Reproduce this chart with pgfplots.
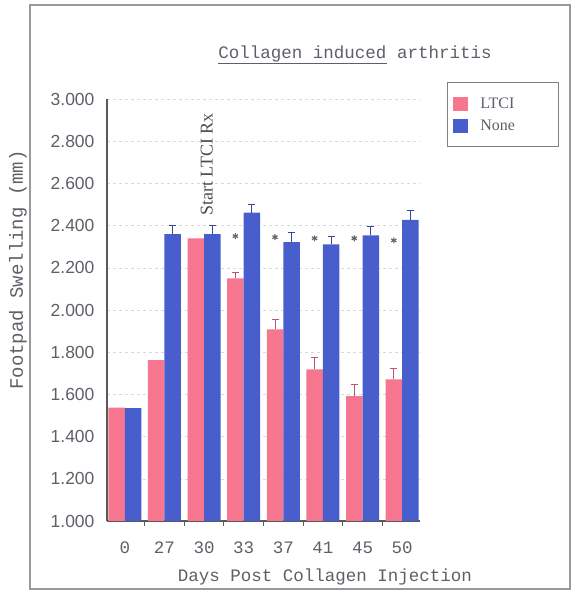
\documentclass[border=0pt]{standalone}
\usepackage{fontspec}
\setmainfont{Liberation Serif}
\newfontfamily\monof{Liberation Mono}
\newfontfamily\sansf{Liberation Sans}
\usepackage{pgfplots}
\pgfplotsset{compat=1.18}
\definecolor{ltcicol}{RGB}{245,118,142}
\definecolor{nonecol}{RGB}{72,94,204}
\definecolor{txt}{RGB}{95,95,105}

\begin{document}
\begin{tikzpicture}
\useasboundingbox (0,0) rectangle (579pt,591pt);
% outer frame
\draw[black!40, line width=1.5pt] (30pt,2pt) rectangle (570pt,586pt);
\begin{axis}[
  at={(107pt,70pt)}, anchor=south west,
  scale only axis, width=313pt, height=422pt,
  xmin=-0.45, xmax=7.45, ymin=1, ymax=3,
  axis x line*=bottom, axis y line*=left,
  axis line style={black!65, line width=1.2pt},
  xtick={0,...,7}, xticklabels={0,27,30,33,37,41,45,50},
  minor xtick={0.5,1.5,2.5,3.5,4.5,5.5,6.5},
  ytick={1,1.2,1.4,1.6,1.8,2,2.2,2.4,2.6,2.8,3},
  major tick length=0pt, minor tick length=5pt, tick align=outside,
  minor tick style={black!65, line width=1pt},
  ymajorgrids, major grid style={black!15, dashed},
  yticklabel style={font=\sansf\fontsize{17.5}{21}\selectfont, text=txt, xshift=-9pt,
    /pgf/number format/.cd, fixed, fixed zerofill, precision=3, assume math mode=true},
  xticklabel style={font=\monof\fontsize{17.5}{21}\selectfont, text=txt, anchor=center, yshift=-27pt},
  legend style={at={(1.086,1.040)}, anchor=north west, draw=black!50, line width=0.8pt,
    font=\fontsize{16}{19}\selectfont, text=txt, inner xsep=6pt, inner ysep=13pt,
    row sep=6pt, nodes={inner sep=2pt}},
  legend cell align=left,
]
% LTCI treated group (left bar of each pair)
\addplot[ybar, bar width=16.5pt, bar shift=0pt, fill=ltcicol, draw=none,
  legend image code/.code={\fill[ltcicol] (0pt,-7pt) rectangle (15pt,7pt);}]
  coordinates {
    (-0.208,1.537) (0.792,1.762) (1.792,2.340) (2.792,2.150)
    (3.792,1.908) (4.792,1.719) (5.792,1.592) (6.792,1.671)
  };
\addlegendentry{\makebox[80pt][l]{\hspace{10pt}LTCI}}
% untreated group (right bar of each pair)
\addplot[ybar, bar width=16.5pt, bar shift=0pt, fill=nonecol, draw=none,
  legend image code/.code={\fill[nonecol] (0pt,-7pt) rectangle (15pt,7pt);}]
  coordinates {
    (0.208,1.535) (1.208,2.359) (2.208,2.359) (3.208,2.461)
    (4.208,2.322) (5.208,2.311) (6.208,2.354) (7.208,2.427)
  };
\addlegendentry{\makebox[80pt][l]{\hspace{10pt}None}}
% standard errors (upper half only)
\addplot[forget plot, draw=none, mark=none,
  error bars/.cd, y dir=plus, y explicit,
  error bar style={ltcicol!75!black, line width=1pt},
  error mark options={rotate=90, mark size=3.5pt, ltcicol!75!black, line width=1pt}]
  coordinates {
    (2.792,2.150) +- (0,0.030)
    (3.792,1.908) +- (0,0.045)
    (4.792,1.719) +- (0,0.055)
    (5.792,1.592) +- (0,0.055)
    (6.792,1.671) +- (0,0.050)
  };
\addplot[forget plot, draw=none, mark=none,
  error bars/.cd, y dir=plus, y explicit,
  error bar style={nonecol!75!black, line width=1pt},
  error mark options={rotate=90, mark size=3.5pt, nonecol!75!black, line width=1pt}]
  coordinates {
    (1.208,2.359) +- (0,0.040)
    (2.208,2.359) +- (0,0.040)
    (3.208,2.461) +- (0,0.040)
    (4.208,2.322) +- (0,0.045)
    (5.208,2.311) +- (0,0.035)
    (6.208,2.354) +- (0,0.040)
    (7.208,2.427) +- (0,0.045)
  };
% significance marks
\addplot[forget plot, only marks, mark=asterisk, mark size=3pt, black!60,
  mark options={line width=1.2pt}]
  coordinates {(2.79,2.350) (3.79,2.345) (4.79,2.340) (5.79,2.340) (6.79,2.330)};
\node[rotate=90, text=black!70, font=\fontsize{18}{21}\selectfont]
  at (axis cs:2.07,2.69) {Start LTCI Rx};
\end{axis}
\node[text=txt] at (355pt,536pt) {\monof\fontsize{17.5}{21}\selectfont\underline{Collagen induced} arthritis};
\node[text=txt, rotate=90] at (18pt,321pt) {\monof\fontsize{19}{22}\selectfont Footpad Swelling (mm)};
\node[text=txt] at (325pt,14pt) {\monof\fontsize{17.5}{21}\selectfont Days Post Collagen Injection};
\end{tikzpicture}
\end{document}
